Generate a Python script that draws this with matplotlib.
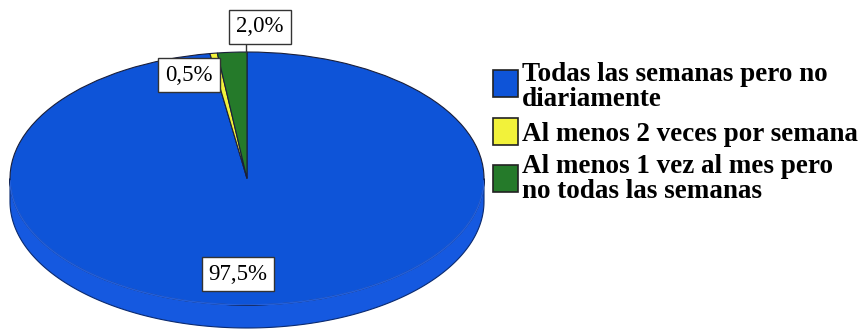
import numpy as np
import matplotlib.pyplot as plt
from matplotlib.patches import Polygon, Rectangle

# datos de la tarta
categorias = [
    "Todas las semanas pero no\ndiariamente",
    "Al menos 2 veces por semana",
    "Al menos 1 vez al mes pero\nno todas las semanas",
]
porcentajes = [97.5, 0.5, 2.0]
colores = ["#0E54D8", "#F2F23A", "#257A2A"]

W, H = 863, 329
fig = plt.figure(figsize=(W / 100, H / 100), dpi=100)
fig.patch.set_facecolor("white")

# cara superior de la tarta (caja en pixeles)
px_l, px_r, px_t, px_b = 10, 484, 52, 305
ry = (px_b - px_t) / 2
grosor = 23 / ry
ax = fig.add_axes([px_l / W, 1 - px_b / H, (px_r - px_l) / W, (px_b - px_t) / H])

# canto frontal para el efecto 3D
t = np.linspace(np.pi, 2 * np.pi, 200)
xs = np.concatenate([np.cos(t), np.cos(t[::-1])])
ys = np.concatenate([np.sin(t), np.sin(t[::-1]) - grosor])
ax.add_patch(Polygon(np.column_stack([xs, ys]), closed=True, facecolor="#1559E0",
                     edgecolor="#0A2A70", lw=0.8, clip_on=False, zorder=0))

wedges, _ = ax.pie(porcentajes, colors=colores, startangle=90, counterclock=False,
                   radius=1, wedgeprops=dict(edgecolor="#1a1f3a", linewidth=0.8))
# union suave entre la cara y el canto
t2 = np.linspace(np.pi + 0.02, 2 * np.pi - 0.02, 200)
ax.plot(np.cos(t2), np.sin(t2), color="#245FD8", lw=1.2, zorder=3)
ax.set_aspect("auto")
ax.set_xlim(-1, 1)
ax.set_ylim(-1, 1)
ax.axis("off")

# etiquetas de porcentaje
etiquetas = [f"{v:.1f}".replace(".", ",") + "%" for v in porcentajes]
pos_etq = [(-0.038, -0.755), (-0.245, 0.818), (0.055, 1.198)]
for txt, (x, y) in zip(etiquetas, pos_etq):
    ax.text(x, y, txt, ha="center", va="center", fontsize=16.5, family="Liberation Serif",
            clip_on=False, zorder=5,
            bbox=dict(boxstyle="square,pad=0.3", fc="white", ec="#333333", lw=1))
ax.plot([-0.004, -0.004], [1.0, 1.055], color="#333333", lw=1, clip_on=False, zorder=4)

# leyenda (cuadro de color + texto en negrita)
sq_w, sq_h = 25, 27
centros = [83.5, 131.5, 178.5]
bases = [106, 141, 198]  # linea base de la ultima linea de cada texto
for c, lab, yc, yb in zip(colores, categorias, centros, bases):
    fig.add_artist(Rectangle((493 / W, 1 - (yc + sq_h / 2) / H), sq_w / W, sq_h / H,
                             transform=fig.transFigure, fc=c, ec="#222222", lw=1.2))
    fig.text(522 / W, 1 - yb / H, lab, ha="left", va="baseline", fontsize=19.5,
             fontweight="bold", family="Liberation Serif", linespacing=1.0)

fig.savefig("out.png", dpi=100)
